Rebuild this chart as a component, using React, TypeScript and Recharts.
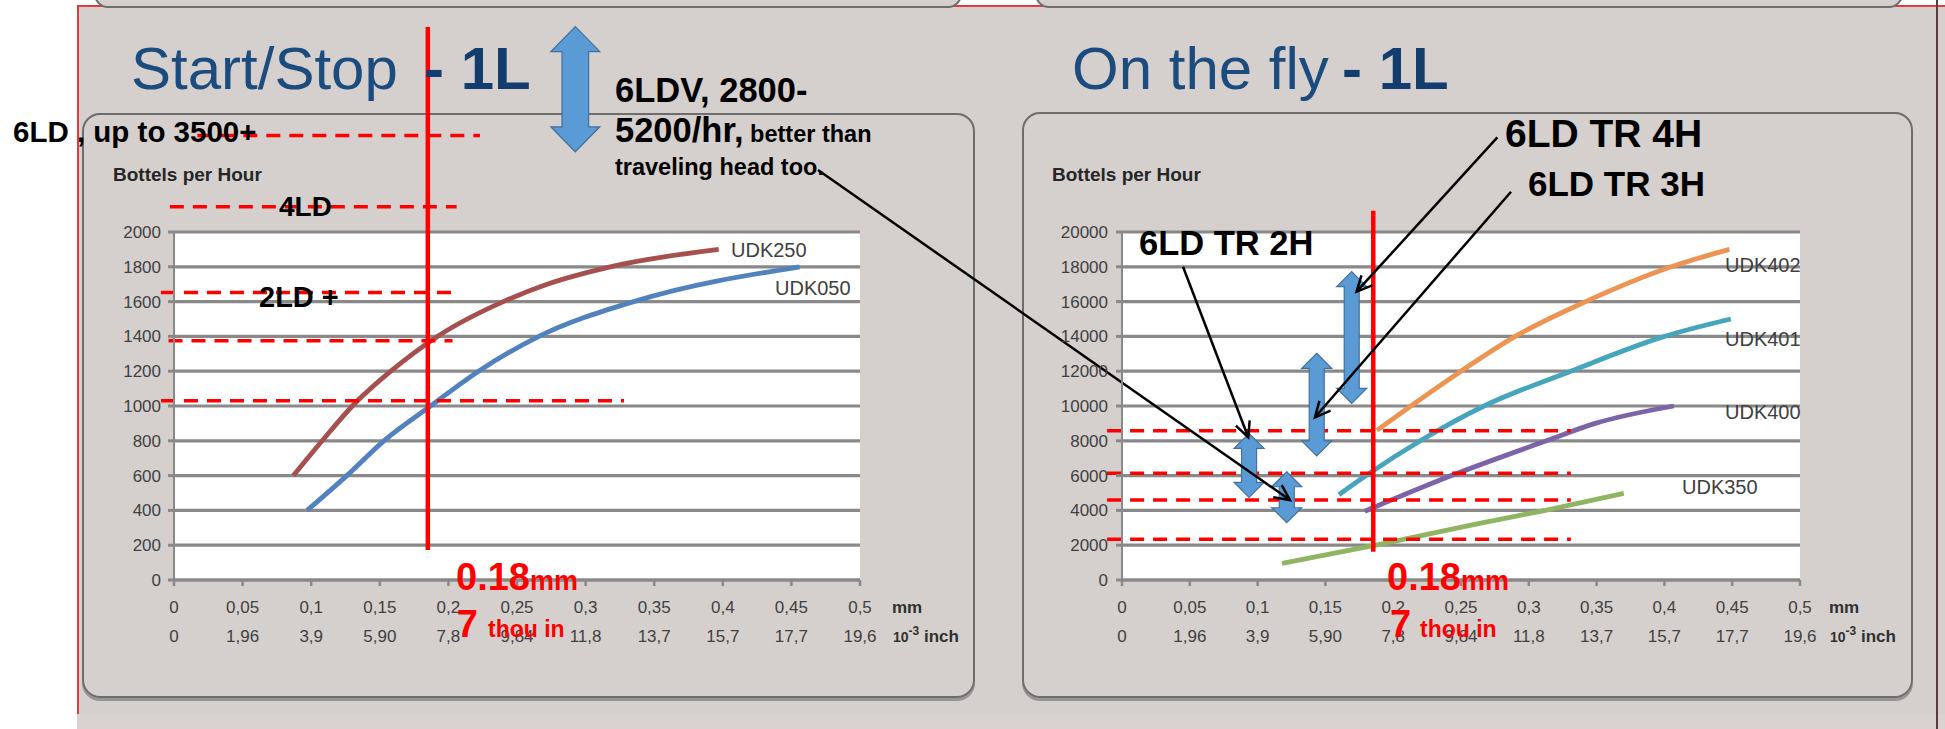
import React from 'react';
import { ComposedChart, Line, XAxis, YAxis, CartesianGrid, ReferenceLine } from 'recharts';

// ---------- axis ticks ----------
const mmTicks = [0, 0.05, 0.1, 0.15, 0.2, 0.25, 0.3, 0.35, 0.4, 0.45, 0.5];
const mmTickLabels = ['0', '0,05', '0,1', '0,15', '0,2', '0,25', '0,3', '0,35', '0,4', '0,45', '0,5'];
const inchTickLabels = ['0', '1,96', '3,9', '5,90', '7,8', '9,84', '11,8', '13,7', '15,7', '17,7', '19,6'];
const leftYTicks = [0, 200, 400, 600, 800, 1000, 1200, 1400, 1600, 1800, 2000];
const rightYTicks = [0, 2000, 4000, 6000, 8000, 10000, 12000, 14000, 16000, 18000, 20000];

// ---------- Start/Stop series ----------
const udk250X = [0.087, 0.108, 0.13, 0.158, 0.192, 0.24, 0.272, 0.318, 0.397];
const udk250Y = [600, 800, 1000, 1200, 1400, 1600, 1700, 1800, 1900];
const udk050X = [0.097, 0.126, 0.153, 0.187, 0.222, 0.266, 0.335, 0.456];
const udk050Y = [400, 600, 800, 1000, 1200, 1400, 1600, 1800];

// ---------- On the fly series ----------
const udk402X = [0.188, 0.213, 0.25, 0.29, 0.342, 0.405, 0.448];
const udk402Y = [8600, 10000, 12000, 14000, 16000, 18000, 19000];
const udk401X = [0.16, 0.18, 0.22, 0.267, 0.331, 0.4, 0.449];
const udk401Y = [4900, 6000, 8000, 10000, 12000, 14000, 15000];
const udk400X = [0.179, 0.243, 0.313, 0.349, 0.407];
const udk400Y = [3950, 6000, 8000, 9000, 10000];
const udk350X = [0.118, 0.19, 0.26, 0.315, 0.37];
const udk350Y = [960, 2050, 3200, 4050, 4980];

// ---------- annotations (data units) ----------
const leftLevelY = [2555, 2145, 1652, 1375, 1030];
const leftLevelX1 = [0.017, -0.003, -0.0095, -0.004, -0.0095];
const leftLevelX2 = [0.223, 0.206, 0.202, 0.203, 0.328];
const leftMarkerX = 0.185;
const leftMarkerY = [172, 3178];
const leftBigArrowX = 0.2925;
const leftBigArrowY = [2461, 3180];

const rightLevelY = [8580, 6130, 4600, 2340];
const rightLevelX = [-0.011, 0.331];
const rightMarkerX = 0.1853;
const rightMarkerY = [1626, 21224];
const rightArrowX = [0.0937, 0.1215, 0.1436, 0.1694];
const rightArrowTop = [8430, 6220, 13030, 17720];
const rightArrowBottom = [4750, 3290, 7130, 10150];
const pointerFromX = [-0.2242, 0.2768, 0.2869, 0.045];
const pointerFromY = [23563, 25443, 22316, 18006];
const pointerToX = [0.1239, 0.173, 0.1423, 0.0931];
const pointerToY = [4598, 16569, 9351, 8201];

const zip = (xs: number[], ys: number[]) => xs.map((x, i) => ({ x, y: ys[i] }));

const FONT = 'Liberation Sans, Arial, sans-serif';

const XTick = (p: any) => {
  const { x, y, payload } = p;
  const i = mmTicks.findIndex((v) => Math.abs(v - payload.value) < 1e-9);
  return (
    <g>
      <text x={x} y={y + 27} textAnchor="middle" fontSize={17} fill="#404040" fontFamily={FONT}>
        {mmTickLabels[i]}
      </text>
      <text x={x} y={y + 56} textAnchor="middle" fontSize={17} fill="#404040" fontFamily={FONT}>
        {inchTickLabels[i]}
      </text>
    </g>
  );
};

const DoubleArrow = (p: any) => {
  const { x1, y1, x2, y2, hw, hh, sw } = p;
  const x = (x1 + x2) / 2;
  const t = Math.min(y1, y2);
  const b = Math.max(y1, y2);
  const pts = [
    [x, t], [x + hw, t + hh], [x + sw, t + hh], [x + sw, b - hh], [x + hw, b - hh],
    [x, b], [x - hw, b - hh], [x - sw, b - hh], [x - sw, t + hh], [x - hw, t + hh],
  ];
  return <polygon points={pts.map((q) => q.join(',')).join(' ')} fill="#5b9bd5" stroke="#41719c" strokeWidth={1.2} />;
};

const PointerArrow = (p: any) => {
  const { x1, y1, x2, y2 } = p;
  const a = Math.atan2(y2 - y1, x2 - x1);
  const L = 17;
  const s = 0.45;
  const ax = x2 - L * Math.cos(a - s);
  const ay = y2 - L * Math.sin(a - s);
  const bx = x2 - L * Math.cos(a + s);
  const by = y2 - L * Math.sin(a + s);
  return (
    <g>
      <line x1={x1} y1={y1} x2={x2} y2={y2} stroke="#000" strokeWidth={2.5} />
      <polyline points={`${ax},${ay} ${x2},${y2} ${bx},${by}`} fill="none" stroke="#000" strokeWidth={2.5} />
    </g>
  );
};

const W = 1945;
const H = 729;
const GRID = '#898989';

const axisTick = { fontSize: 17, fill: '#404040', fontFamily: FONT };

function LeftChart() {
  return (
    <ComposedChart width={W} height={H} margin={{ left: 114, right: W - 860, top: 232, bottom: 89 }}>
      <CartesianGrid vertical={false} stroke={GRID} strokeWidth={3.2} fill="#ffffff" />
      <XAxis type="number" dataKey="x" domain={[0, 0.5]} ticks={mmTicks} height={60} tickSize={6} tickMargin={0}
        tick={<XTick />} axisLine={{ stroke: GRID, strokeWidth: 3 }} tickLine={{ stroke: GRID, strokeWidth: 2.5 }} interval={0} />
      <YAxis type="number" domain={[0, 2000]} ticks={leftYTicks} width={60} tickSize={6} tickMargin={7} interval={0}
        tick={axisTick} axisLine={{ stroke: GRID, strokeWidth: 2 }} tickLine={{ stroke: GRID, strokeWidth: 3 }} />
      <Line data={zip(udk250X, udk250Y)} dataKey="y" type="monotone" stroke="#a5504f" strokeWidth={4.8} dot={false} isAnimationActive={false} />
      <Line data={zip(udk050X, udk050Y)} dataKey="y" type="monotone" stroke="#5282bd" strokeWidth={4.8} dot={false} isAnimationActive={false} />
      {leftLevelY.map((y, i) => (
        <ReferenceLine key={'ll' + i} segment={[{ x: leftLevelX1[i], y }, { x: leftLevelX2[i], y }]}
          stroke="#ff0000" strokeWidth={3.5} strokeDasharray="14 9" ifOverflow="visible" />
      ))}
      <ReferenceLine segment={[{ x: leftMarkerX, y: leftMarkerY[0] }, { x: leftMarkerX, y: leftMarkerY[1] }]}
        stroke="#ff0000" strokeWidth={4.5} ifOverflow="visible" />
      <ReferenceLine segment={[{ x: leftBigArrowX, y: leftBigArrowY[0] }, { x: leftBigArrowX, y: leftBigArrowY[1] }]}
        ifOverflow="visible" shape={(p: any) => <DoubleArrow {...p} hw={24.5} hh={25} sw={13.3} />} />
    </ComposedChart>
  );
}

function RightChart() {
  return (
    <ComposedChart width={W} height={H} margin={{ left: 1062, right: W - 1800, top: 232, bottom: 89 }}>
      <CartesianGrid vertical={false} stroke={GRID} strokeWidth={3.2} fill="#ffffff" />
      <XAxis type="number" dataKey="x" domain={[0, 0.5]} ticks={mmTicks} height={60} tickSize={6} tickMargin={0}
        tick={<XTick />} axisLine={{ stroke: GRID, strokeWidth: 3 }} tickLine={{ stroke: GRID, strokeWidth: 2.5 }} interval={0} />
      <YAxis type="number" domain={[0, 20000]} ticks={rightYTicks} width={60} tickSize={6} tickMargin={8} interval={0}
        tick={axisTick} axisLine={{ stroke: GRID, strokeWidth: 2 }} tickLine={{ stroke: GRID, strokeWidth: 3 }} />
      <Line data={zip(udk402X, udk402Y)} dataKey="y" type="monotone" stroke="#ee9452" strokeWidth={4.8} dot={false} isAnimationActive={false} />
      <Line data={zip(udk401X, udk401Y)} dataKey="y" type="monotone" stroke="#45a5bd" strokeWidth={4.8} dot={false} isAnimationActive={false} />
      <Line data={zip(udk400X, udk400Y)} dataKey="y" type="monotone" stroke="#7b64a8" strokeWidth={4.8} dot={false} isAnimationActive={false} />
      <Line data={zip(udk350X, udk350Y)} dataKey="y" type="monotone" stroke="#8fb462" strokeWidth={4.8} dot={false} isAnimationActive={false} />
      {rightLevelY.map((y, i) => (
        <ReferenceLine key={'rl' + i} segment={[{ x: rightLevelX[0], y }, { x: rightLevelX[1], y }]}
          stroke="#ff0000" strokeWidth={3.5} strokeDasharray="14 9" ifOverflow="visible" />
      ))}
      <ReferenceLine segment={[{ x: rightMarkerX, y: rightMarkerY[0] }, { x: rightMarkerX, y: rightMarkerY[1] }]}
        stroke="#ff0000" strokeWidth={4.5} ifOverflow="visible" />
      {rightArrowX.map((x, i) => (
        <ReferenceLine key={'ra' + i} segment={[{ x, y: rightArrowBottom[i] }, { x, y: rightArrowTop[i] }]}
          ifOverflow="visible" shape={(p: any) => <DoubleArrow {...p} hw={15} hh={15} sw={7.5} />} />
      ))}
      {pointerFromX.map((x, i) => (
        <ReferenceLine key={'pa' + i} segment={[{ x, y: pointerFromY[i] }, { x: pointerToX[i], y: pointerToY[i] }]}
          ifOverflow="visible" shape={(p: any) => <PointerArrow {...p} />} />
      ))}
    </ComposedChart>
  );
}

const abs = (s: React.CSSProperties): React.CSSProperties => ({ position: 'absolute', ...s });

function Overlay() {
  const title = '#1c4b7e';
  const unit = (x: number) => (
    <g key={'u' + x} fontFamily={FONT} fill="#303030" fontWeight="bold">
      <text x={x} y={612.7} fontSize={17}>mm</text>
      <text x={x + 1} y={642} fontSize={14}>10<tspan dy={-7} fontSize={12}>-3</tspan><tspan dy={7} fontSize={17}> inch</tspan></text>
    </g>
  );
  const red = (x0: number, x7: number, xt: number) => (
    <g key={'r' + x0} fontFamily={FONT} fill="#ff0000" fontWeight="bold">
      <text x={x0} y={590} fontSize={38}>0.18<tspan fontSize={27}>mm</tspan></text>
      <text x={x7} y={637} fontSize={38}>7</text>
      <text x={xt} y={637} fontSize={23}>thou in</text>
    </g>
  );
  return (
    <svg width={W} height={H} style={abs({ left: 0, top: 0, pointerEvents: 'none' })}>
      <g fontFamily={FONT}>
        <text x={131} y={89} fontSize={60} fill={title}>Start/Stop</text>
        <text x={424} y={89} fontSize={60} fill="#123d6c" fontWeight="bold">- 1L</text>
        <text x={1072} y={88.5} fontSize={60} fill={title}>On the fly</text>
        <text x={1342} y={88.5} fontSize={60} fill="#123d6c" fontWeight="bold">- 1L</text>

        <text x={113} y={181} fontSize={19} fontWeight="bold" fill="#262626">Bottels per Hour</text>
        <text x={1052} y={181} fontSize={19} fontWeight="bold" fill="#262626">Bottels per Hour</text>

        <g fontWeight="bold" fill="#000">
          <text x={13} y={142} fontSize={29.5}>6LD , up to 3500+</text>
          <text x={279} y={216} fontSize={28}>4LD</text>
          <text x={259} y={306.5} fontSize={29}>2LD +</text>
          <text x={615} y={101.7} fontSize={34.5}>6LDV, 2800-</text>
          <text x={615} y={141.7} fontSize={34.5}>5200/hr,<tspan fontSize={23.5}> better than</tspan></text>
          <text x={615} y={175} fontSize={23.5}>traveling head too.</text>
          <text x={1505} y={146.7} fontSize={39}>6LD TR 4H</text>
          <text x={1528} y={196} fontSize={35}>6LD TR 3H</text>
          <text x={1139} y={255} fontSize={34.5}>6LD TR 2H</text>
        </g>

        <g fontSize={20} fill="#404040">
          <text x={731} y={257}>UDK250</text>
          <text x={775} y={295}>UDK050</text>
          <text x={1725} y={272}>UDK402</text>
          <text x={1725} y={346}>UDK401</text>
          <text x={1725} y={419}>UDK400</text>
          <text x={1682} y={494}>UDK350</text>
        </g>
      </g>
      {unit(892)}
      {unit(1829)}
      {red(456, 456.7, 488)}
      {red(1387, 1390, 1420)}
    </svg>
  );
}

export default function App() {
  return (
    <div style={{ position: 'fixed', left: 0, top: 0, width: W, height: H, background: '#ffffff', overflow: 'hidden' }}>
      <div style={abs({ left: 77, top: 5, width: W - 77, height: H - 5, background: '#d5d0ce', borderLeft: '2px solid #e23b3b', borderTop: '2px solid #e23b3b', boxSizing: 'border-box' })} />
      <div style={abs({ left: 77, top: 714, width: W - 77, height: 15, background: '#dad2d1' })} />
      <div style={abs({ left: 1936, top: 0, width: 2, height: H, background: '#5a3b3b' })} />
      <div style={abs({ left: 94, top: -30, width: 868, height: 38, border: '2px solid #6e6e6e', borderRadius: 14, boxSizing: 'border-box', background: '#d5d0ce' })} />
      <div style={abs({ left: 1035, top: -30, width: 868, height: 38, border: '2px solid #6e6e6e', borderRadius: 14, boxSizing: 'border-box', background: '#d5d0ce' })} />
      <div style={abs({ left: 82, top: 113, width: 893, height: 585, border: '2px solid #6d6d6d', borderRadius: 18, boxShadow: '0 3px 0 #959595', boxSizing: 'border-box' })} />
      <div style={abs({ left: 1022, top: 112, width: 891, height: 586, border: '2px solid #6d6d6d', borderRadius: 18, boxShadow: '0 3px 0 #959595', boxSizing: 'border-box' })} />
      <div style={abs({ left: 0, top: 0 })}><LeftChart /></div>
      <div style={abs({ left: 0, top: 0 })}><RightChart /></div>
      <Overlay />
    </div>
  );
}
